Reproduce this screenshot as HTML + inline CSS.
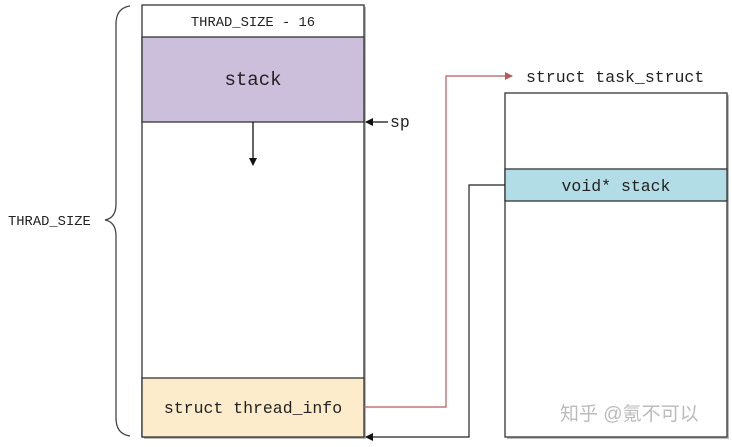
<!DOCTYPE html>
<html><head><style>
body{margin:0;background:#fff;width:732px;height:442px;overflow:hidden}
text{font-family:"Liberation Mono",monospace;fill:#222}
</style></head><body>
<svg width="732" height="442" viewBox="0 0 732 442" xmlns="http://www.w3.org/2000/svg">
<defs>
<marker id="ab" markerWidth="8" markerHeight="8" refX="7" refY="4" orient="auto" markerUnits="userSpaceOnUse"><path d="M0,0 L8,4 L0,8z" fill="#111"/></marker>
<marker id="ar" markerWidth="8" markerHeight="8" refX="7" refY="4" orient="auto" markerUnits="userSpaceOnUse"><path d="M0,0 L8,4 L0,8z" fill="#b85a5a"/></marker>
</defs>
<rect x="144" y="7" width="222" height="432" fill="#bbb"/>
<rect x="507" y="95" width="222" height="344" fill="#bbb"/>
<rect x="142" y="5" width="222" height="432" fill="#fff" stroke="#333" stroke-width="1.3"/>
<rect x="142" y="37" width="222" height="85" fill="#cbbfdb" stroke="#333" stroke-width="1.3"/>
<rect x="142" y="378" width="222" height="59" fill="#fdeccb" stroke="#333" stroke-width="1.3"/>
<text x="253" y="26" font-size="13.8" text-anchor="middle">THRAD_SIZE - 16</text>
<text x="253" y="85" font-size="19" text-anchor="middle">stack</text>
<text x="253" y="413" font-size="16.5" text-anchor="middle">struct thread_info</text>
<line x1="253" y1="122" x2="253" y2="165" stroke="#111" stroke-width="1.3" marker-end="url(#ab)"/>
<line x1="388" y1="122" x2="366" y2="122" stroke="#111" stroke-width="1.3" marker-end="url(#ab)"/>
<text x="390" y="127" font-size="16.5">sp</text>
<path d="M130,6 Q116,8 116,24 L116,204 Q116,218 105,220 Q116,222 116,236 L116,418 Q116,434 130,436" fill="none" stroke="#444" stroke-width="1.3"/>
<text x="8" y="225" font-size="13.8">THRAD_SIZE</text>
<rect x="505" y="93" width="222" height="344" fill="#fff" stroke="#333" stroke-width="1.3"/>
<rect x="505" y="169" width="222" height="32" fill="#b3dde6" stroke="#333" stroke-width="1.3"/>
<text x="616" y="191" font-size="16.5" text-anchor="middle">void* stack</text>
<text x="526" y="82" font-size="16.5">struct task_struct</text>
<polyline points="364,407 446,407 446,76 512,76" fill="none" stroke="#b85a5a" stroke-width="1.2" marker-end="url(#ar)"/>
<polyline points="505,185 469,185 469,437 366,437" fill="none" stroke="#222" stroke-width="1.2" marker-end="url(#ab)"/>
<text x="560" y="420" font-size="19" style="font-family:'Liberation Sans','Noto Sans CJK SC',sans-serif;fill:#bbb">知乎 @氪不可以</text>
</svg>
</body></html>
